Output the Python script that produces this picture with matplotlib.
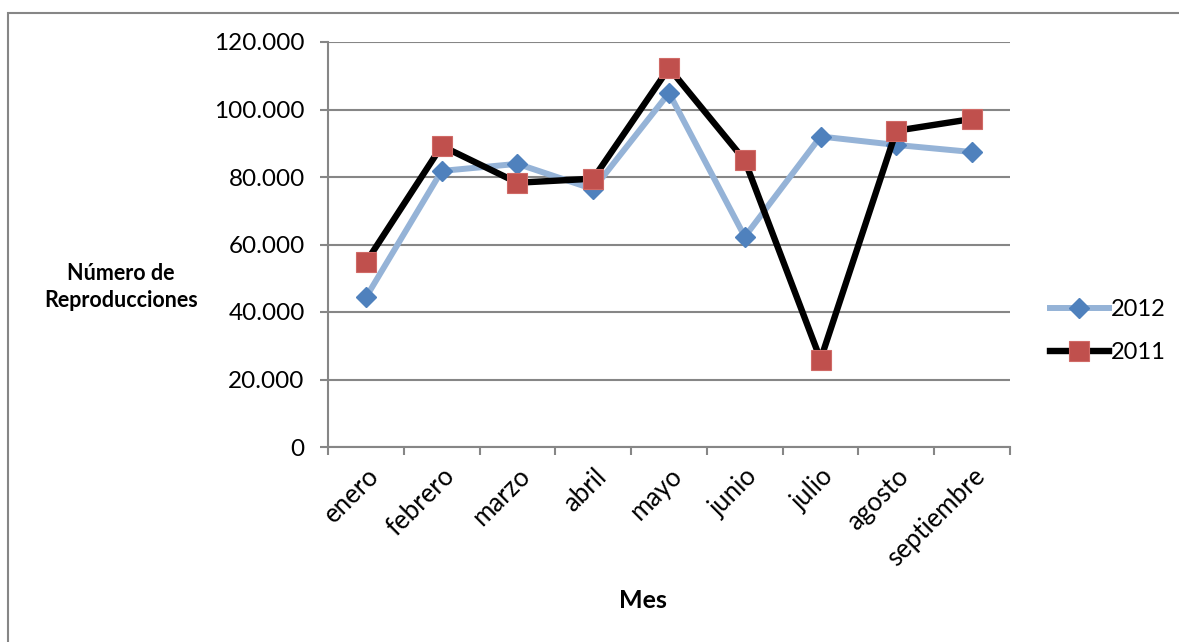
import matplotlib.pyplot as plt
from matplotlib.patches import Rectangle
from matplotlib.ticker import FuncFormatter, FixedLocator

plt.rcParams['font.family'] = ['Lato', 'DejaVu Sans']

meses = ["enero", "febrero", "marzo", "abril", "mayo", "junio",
         "julio", "agosto", "septiembre"]
repro_2012 = [44300, 81800, 83900, 76400, 104900, 62300, 92000, 89500, 87400]
repro_2011 = [54700, 89200, 78300, 79500, 112300, 84900, 25900, 93700, 97200]

fig = plt.figure(figsize=(11.79, 6.42), dpi=100)
ax = fig.add_axes([328 / 1179, 1 - 447 / 642, 682 / 1179, 405 / 642])

x = list(range(len(meses)))
ax.plot(x, repro_2012, color="#95B3D7", linewidth=4.3, marker="D",
        markersize=10.5, markerfacecolor="#4F81BD", markeredgecolor="#4F81BD",
        label="2012", zorder=3)
ax.plot(x, repro_2011, color="black", linewidth=4.6, marker="s",
        markersize=14, markerfacecolor="#C0504D", markeredgecolor="#D06A66",
        markeredgewidth=0.8, label="2011", zorder=4)

grid_color = "#868686"
ax.set_ylim(0, 120000)
ax.set_xlim(-0.5, len(meses) - 0.5)
ax.set_yticks(range(0, 120001, 20000))
ax.yaxis.set_major_formatter(FuncFormatter(lambda v, p: f"{int(v):,}".replace(",", ".")))
ax.grid(axis="y", color=grid_color, linewidth=1.5, zorder=0)
ax.set_axisbelow(True)

ax.set_xticks(x)
ax.set_xticklabels(meses, rotation=45, ha="right", rotation_mode="anchor")
ax.xaxis.set_minor_locator(FixedLocator([i - 0.5 for i in range(len(meses) + 1)]))
ax.tick_params(axis="x", which="major", length=0, pad=12, labelsize=18.5)
ax.tick_params(axis="x", which="minor", length=5.5, width=1.5, color=grid_color)
ax.tick_params(axis="y", length=5.8, width=1.5, color=grid_color, pad=11,
               labelsize=17.5)

for side in ["top", "right"]:
    ax.spines[side].set_visible(False)
for side in ["left", "bottom"]:
    ax.spines[side].set_color(grid_color)
    ax.spines[side].set_linewidth(1.5)

fig.text(121 / 1179, 1 - 287 / 642, "Número de\nReproducciones", ha="center",
         va="center", fontsize=15.5, fontweight="bold", linespacing=1.3)
fig.text(643 / 1179, 1 - 601 / 642, "Mes", ha="center", va="center",
         fontsize=18, fontweight="bold")

fig.legend(loc="center left", bbox_to_anchor=(1038 / 1179, 1 - 331 / 642),
           frameon=False, fontsize=17, handlelength=2.5, handletextpad=0.1,
           labelspacing=0.95, borderpad=0)

# outer frame of the chart area, running off the right and bottom edges
fig.add_artist(Rectangle((8 / 1179, -0.2), 1.2, 1.2 - 13 / 642,
                         transform=fig.transFigure, fill=False,
                         edgecolor=grid_color, linewidth=1.5))

fig.savefig("out.png", dpi=100)
